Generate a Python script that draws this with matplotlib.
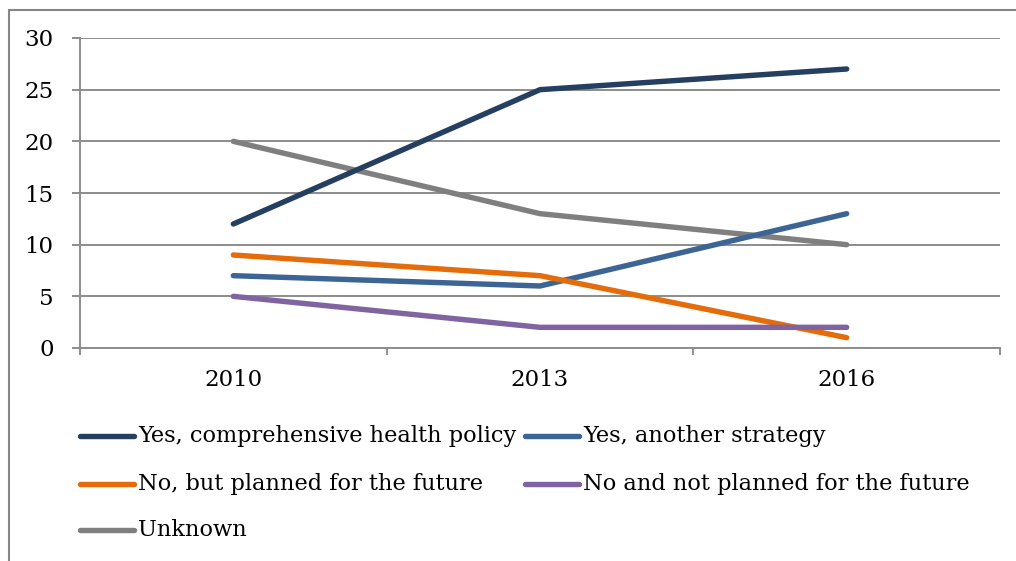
import matplotlib
matplotlib.use("Agg")
import matplotlib.pyplot as plt
from matplotlib.lines import Line2D
from matplotlib.patches import Rectangle

years = ["2010", "2013", "2016"]
series_names = [
    "Yes, comprehensive health policy",
    "Yes, another strategy",
    "No, but planned for the future",
    "No and not planned for the future",
    "Unknown",
]
comprehensive = [12, 25, 27]
another = [7, 6, 13]
planned = [9, 7, 1]
not_planned = [5, 2, 2]
unknown = [20, 13, 10]
values = [comprehensive, another, planned, not_planned, unknown]
colors = ["#243F60", "#3C6495", "#E46C0A", "#8064A2", "#7F7F7F"]
yticks = [0, 5, 10, 15, 20, 25, 30]

plt.rcParams['font.family'] = ['DejaVu Serif']
W, H = 1016, 561
fig = plt.figure(figsize=(W / 100, H / 100), dpi=100)

# outer chart border (cropped on right and bottom)
fig.patches.append(Rectangle((9 / W, -0.1), 1.2, 1 - 10 / H + 0.1, transform=fig.transFigure,
                             fill=False, edgecolor="#868686", linewidth=1.5))

ax = fig.add_axes([80 / W, 1 - 348 / H, 920 / W, 310 / H])
x = list(range(len(years)))
draw_order = [4, 0, 1, 2, 3]
for i in draw_order:
    ax.plot(x, values[i], color=colors[i], linewidth=3.9, solid_capstyle="round",
            solid_joinstyle="round", zorder=3)

ax.set_xlim(-0.5, len(years) - 0.5)
ax.set_ylim(0, 30)
ax.set_yticks(yticks)
ax.set_yticklabels([str(v) for v in yticks])
ax.set_xticks(x)
ax.set_xticklabels(years)
ax.set_xticks([-0.5, 0.5, 1.5, 2.5], minor=True)
ax.yaxis.grid(True, color="#8C8C8C", linewidth=1.4)
ax.set_axisbelow(True)
for s in ["top", "right"]:
    ax.spines[s].set_visible(False)
for s in ["left", "bottom"]:
    ax.spines[s].set_color("#8C8C8C")
    ax.spines[s].set_linewidth(1.4)
ax.tick_params(axis="y", length=6, width=1.4, color="#8C8C8C", pad=13, labelsize=16.5, labelcolor="black")
ax.tick_params(axis="x", which="major", length=0, pad=15, labelsize=16.5)
ax.tick_params(axis="x", which="minor", length=5, width=1.4, color="#8C8C8C")

# legend, laid out row-wise as in the reference
rows_y = [436, 484, 530]
col_x = [80, 525]
for k, name in enumerate(series_names):
    r, c = divmod(k, 2)
    y = 1 - rows_y[r] / H
    x0 = col_x[c] / W
    fig.add_artist(Line2D([x0, x0 + 54 / W], [y, y], transform=fig.transFigure,
                          color=colors[k], linewidth=3.9, solid_capstyle="round"))
    fig.text(x0 + 58 / W, y, name, fontsize=16.2, va="center", ha="left")

fig.savefig("out.png", dpi=100)
